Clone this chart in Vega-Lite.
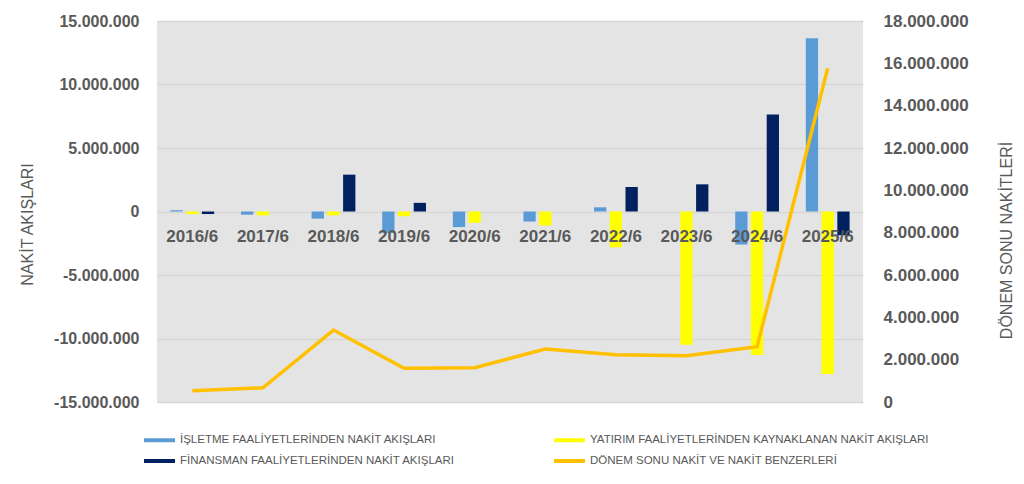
{
  "$schema": "https://vega.github.io/schema/vega-lite/v6.json",
  "width": 706,
  "height": 381,
  "autosize": {"type": "none"},
  "padding": {"left": 157, "top": 21, "right": 161, "bottom": 82},
  "background": "#FFFFFF",
  "config": {
    "locale": {"number": {"decimal": ",", "thousands": ".", "grouping": [3], "currency": ["", ""], "minus": "-"}},
    "view": {"fill": "#E4E4E4", "stroke": null},
    "font": "Liberation Sans"
  },
  "datasets": {
    "bars": [
      {"year": "2016/6", "series": "İŞLETME FAALİYETLERİNDEN NAKİT AKIŞLARI", "value": 100000},
      {"year": "2016/6", "series": "YATIRIM FAALİYETLERİNDEN KAYNAKLANAN NAKİT AKIŞLARI", "value": -200000},
      {"year": "2016/6", "series": "FİNANSMAN FAALİYETLERİNDEN NAKİT AKIŞLARI", "value": -200000},
      {"year": "2017/6", "series": "İŞLETME FAALİYETLERİNDEN NAKİT AKIŞLARI", "value": -250000},
      {"year": "2017/6", "series": "YATIRIM FAALİYETLERİNDEN KAYNAKLANAN NAKİT AKIŞLARI", "value": -300000},
      {"year": "2017/6", "series": "FİNANSMAN FAALİYETLERİNDEN NAKİT AKIŞLARI", "value": 0},
      {"year": "2018/6", "series": "İŞLETME FAALİYETLERİNDEN NAKİT AKIŞLARI", "value": -560000},
      {"year": "2018/6", "series": "YATIRIM FAALİYETLERİNDEN KAYNAKLANAN NAKİT AKIŞLARI", "value": -300000},
      {"year": "2018/6", "series": "FİNANSMAN FAALİYETLERİNDEN NAKİT AKIŞLARI", "value": 2900000},
      {"year": "2019/6", "series": "İŞLETME FAALİYETLERİNDEN NAKİT AKIŞLARI", "value": -1700000},
      {"year": "2019/6", "series": "YATIRIM FAALİYETLERİNDEN KAYNAKLANAN NAKİT AKIŞLARI", "value": -370000},
      {"year": "2019/6", "series": "FİNANSMAN FAALİYETLERİNDEN NAKİT AKIŞLARI", "value": 680000},
      {"year": "2020/6", "series": "İŞLETME FAALİYETLERİNDEN NAKİT AKIŞLARI", "value": -1230000},
      {"year": "2020/6", "series": "YATIRIM FAALİYETLERİNDEN KAYNAKLANAN NAKİT AKIŞLARI", "value": -890000},
      {"year": "2020/6", "series": "FİNANSMAN FAALİYETLERİNDEN NAKİT AKIŞLARI", "value": 0},
      {"year": "2021/6", "series": "İŞLETME FAALİYETLERİNDEN NAKİT AKIŞLARI", "value": -790000},
      {"year": "2021/6", "series": "YATIRIM FAALİYETLERİNDEN KAYNAKLANAN NAKİT AKIŞLARI", "value": -1100000},
      {"year": "2021/6", "series": "FİNANSMAN FAALİYETLERİNDEN NAKİT AKIŞLARI", "value": 0},
      {"year": "2022/6", "series": "İŞLETME FAALİYETLERİNDEN NAKİT AKIŞLARI", "value": 330000},
      {"year": "2022/6", "series": "YATIRIM FAALİYETLERİNDEN KAYNAKLANAN NAKİT AKIŞLARI", "value": -2820000},
      {"year": "2022/6", "series": "FİNANSMAN FAALİYETLERİNDEN NAKİT AKIŞLARI", "value": 1930000},
      {"year": "2023/6", "series": "İŞLETME FAALİYETLERİNDEN NAKİT AKIŞLARI", "value": 0},
      {"year": "2023/6", "series": "YATIRIM FAALİYETLERİNDEN KAYNAKLANAN NAKİT AKIŞLARI", "value": -10500000},
      {"year": "2023/6", "series": "FİNANSMAN FAALİYETLERİNDEN NAKİT AKIŞLARI", "value": 2140000},
      {"year": "2024/6", "series": "İŞLETME FAALİYETLERİNDEN NAKİT AKIŞLARI", "value": -2600000},
      {"year": "2024/6", "series": "YATIRIM FAALİYETLERİNDEN KAYNAKLANAN NAKİT AKIŞLARI", "value": -11300000},
      {"year": "2024/6", "series": "FİNANSMAN FAALİYETLERİNDEN NAKİT AKIŞLARI", "value": 7630000},
      {"year": "2025/6", "series": "İŞLETME FAALİYETLERİNDEN NAKİT AKIŞLARI", "value": 13640000},
      {"year": "2025/6", "series": "YATIRIM FAALİYETLERİNDEN KAYNAKLANAN NAKİT AKIŞLARI", "value": -12800000},
      {"year": "2025/6", "series": "FİNANSMAN FAALİYETLERİNDEN NAKİT AKIŞLARI", "value": -1870000}
    ],
    "cash": [
      {"year": "2016/6", "cash": 530000},
      {"year": "2017/6", "cash": 670000},
      {"year": "2018/6", "cash": 3400000},
      {"year": "2019/6", "cash": 1590000},
      {"year": "2020/6", "cash": 1620000},
      {"year": "2021/6", "cash": 2500000},
      {"year": "2022/6", "cash": 2230000},
      {"year": "2023/6", "cash": 2180000},
      {"year": "2024/6", "cash": 2610000},
      {"year": "2025/6", "cash": 15770000}
    ]
  },
  "layer": [
    {
      "data": {"name": "bars"},
      "mark": {"type": "bar", "strokeWidth": 0},
      "encoding": {
        "x": {
          "field": "year", "type": "nominal", "sort": null,
          "scale": {"paddingInner": 0.38, "paddingOuter": 0.19},
          "axis": {
            "title": null, "orient": "bottom", "offset": -190.5, "domain": false, "ticks": false,
            "labelAngle": 0, "labelFontSize": 17, "labelFontWeight": "bold", "labelColor": "#595959",
            "labelPadding": 17, "zindex": 1, "grid": false
          }
        },
        "xOffset": {
          "field": "series", "type": "nominal", "sort": null,
          "scale": {
            "domain": ["İŞLETME FAALİYETLERİNDEN NAKİT AKIŞLARI", "YATIRIM FAALİYETLERİNDEN KAYNAKLANAN NAKİT AKIŞLARI", "FİNANSMAN FAALİYETLERİNDEN NAKİT AKIŞLARI"],
            "paddingInner": 0.22, "paddingOuter": 0
          }
        },
        "y": {
          "field": "value", "type": "quantitative",
          "scale": {"domain": [-15000000, 15000000], "nice": false, "zero": false},
          "axis": {
            "values": [-15000000, -10000000, -5000000, 0, 5000000, 10000000, 15000000],
            "format": ",.0f", "domain": false, "ticks": false, "grid": true,
            "gridColor": "#D6D6D6", "gridWidth": 1.3,
            "labelFontSize": 16, "labelFontWeight": "bold", "labelColor": "#595959", "labelPadding": 18,
            "title": "NAKİT AKIŞLARI", "titleFontSize": 16, "titleFontWeight": "normal", "titleColor": "#595959",
            "titleAngle": 270, "titleBaseline": "middle", "titleAlign": "center", "titleX": -130, "titleY": 203
          }
        },
        "color": {
          "field": "series", "type": "nominal", "sort": null,
          "scale": {
            "domain": ["İŞLETME FAALİYETLERİNDEN NAKİT AKIŞLARI", "YATIRIM FAALİYETLERİNDEN KAYNAKLANAN NAKİT AKIŞLARI", "FİNANSMAN FAALİYETLERİNDEN NAKİT AKIŞLARI", "DÖNEM SONU NAKİT VE NAKİT BENZERLERİ"],
            "range": ["#5B9BD5", "#FFFF00", "#002060", "#FFC000"]
          },
          "legend": {
            "title": null, "orient": "none", "legendX": -7.5, "legendY": 409, "direction": "horizontal",
            "columns": 2, "columnPadding": 98, "rowPadding": 5, "padding": 0,
            "symbolType": "M-1.55,-0.2H1.55V0.2H-1.55Z", "symbolSize": 400, "symbolStrokeWidth": 0,
            "labelOffset": 10.5, "labelFontSize": 11.5, "labelColor": "#595959", "labelLimit": 400
          }
        }
      }
    },
    {
      "data": {"name": "cash"},
      "mark": {"type": "line", "color": "#FFC000", "strokeWidth": 3.5},
      "encoding": {
        "x": {"field": "year", "type": "nominal", "sort": null},
        "y": {
          "field": "cash", "type": "quantitative",
          "scale": {"domain": [0, 18000000], "nice": false},
          "axis": {
            "orient": "right",
            "values": [0, 2000000, 4000000, 6000000, 8000000, 10000000, 12000000, 14000000, 16000000, 18000000],
            "format": ",.0f", "domain": false, "ticks": false, "grid": false,
            "labelFontSize": 17, "labelFontWeight": "bold", "labelColor": "#595959", "labelPadding": 20,
            "title": "DÖNEM SONU NAKİTLERİ", "titleFontSize": 16, "titleFontWeight": "normal", "titleColor": "#595959",
            "titleAngle": 270, "titleBaseline": "middle", "titleAlign": "center", "titleX": 143, "titleY": 219
          }
        }
      }
    }
  ],
  "resolve": {"scale": {"y": "independent"}}
}
